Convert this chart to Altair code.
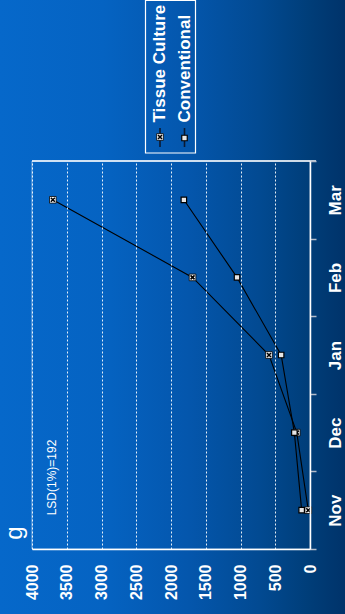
import altair as alt
import pandas as pd

# ---- data -------------------------------------------------------------
months = ["Nov", "Dec", "Jan", "Feb", "Mar"]
tissue_culture = [25, 190, 590, 1690, 3700]
conventional = [120, 225, 415, 1050, 1815]
series_names = ["Tissue Culture", "Conventional"]
value_ticks = [0, 500, 1000, 1500, 2000, 2500, 3000, 3500, 4000]
panel_label = "g"
lsd_note = "LSD(1%)=192"

FONT = "Liberation Sans"
W, H = 278, 388          # plot area
PAD_L, PAD_T = 32, 161   # plot origin inside the 345x614 canvas
PAD_R, PAD_B = 345 - PAD_L - W, 614 - PAD_T - H

rows = []
for i, m in enumerate(months):
    rows.append({"month": m, "idx": i, "series": series_names[0], "value": tissue_culture[i]})
    rows.append({"month": m, "idx": i, "series": series_names[1], "value": conventional[i]})
df = pd.DataFrame(rows)

x_enc = alt.X(
    "value:Q",
    scale=alt.Scale(domain=[0, 4000], reverse=True, nice=False, zero=True),
    axis=alt.Axis(
        values=value_ticks, format="d", orient="bottom", title=None, zindex=1,
        labelAngle=270, labelAlign="right", labelBaseline="middle",
        labelFont=FONT, labelFontSize=16, labelFontWeight="bold", labelColor="white",
        labelPadding=15, ticks=False, tickSize=0,
        domainColor="white", domainWidth=1.5,
        grid=True, gridColor="white", gridDash=[2, 2], gridWidth=1, gridOpacity=0.9,
        labelFlush=False, labelOverlap=False,
    ),
)
y_enc = alt.Y(
    "month:N",
    sort=months[::-1],
    scale=alt.Scale(type="band", paddingInner=0, paddingOuter=0),
    axis=alt.Axis(
        orient="right", title=None, zindex=1, grid=False,
        tickBand="extent", tickColor="#b4bccb", tickSize=6, tickWidth=1.5,
        domainColor="white", domainWidth=1.5,
        labelAngle=270, labelAlign="center", labelBaseline="top",
        labelFont=FONT, labelFontSize=17, labelFontWeight="bold", labelColor="white",
        labelPadding=11,
    ),
)

one = pd.DataFrame({"k": [0]})

# blue slide-style background behind everything
bg = alt.Chart(one).mark_rect(
    fill=alt.LinearGradient(
        gradient="linear",
        stops=[
            alt.GradientStop(color="#0668ca", offset=0),
            alt.GradientStop(color="#0563c2", offset=0.3),
            alt.GradientStop(color="#0456ac", offset=0.55),
            alt.GradientStop(color="#024a92", offset=0.75),
            alt.GradientStop(color="#003d78", offset=0.9),
            alt.GradientStop(color="#00336a", offset=1),
        ],
        x1=0, x2=1, y1=0, y2=0,
    ),
    strokeWidth=0,
).encode(
    x=alt.value(-PAD_L), x2=alt.value(W + PAD_R),
    y=alt.value(-PAD_T), y2=alt.value(H + PAD_B),
)

frame = alt.Chart(one).mark_rect(
    fillOpacity=0, stroke="white", strokeOpacity=0.5, strokeWidth=1
).encode(x=alt.value(0), x2=alt.value(W), y=alt.value(0), y2=alt.value(H))

top_edge = alt.Chart(one).mark_rule(color="white", strokeWidth=1.5).encode(
    x=alt.value(0), x2=alt.value(W + 6), y=alt.value(0)
)

base = alt.Chart(df).encode(x=x_enc, y=y_enc)

lines = base.mark_line(color="black", strokeWidth=1.1).encode(
    detail="series:N", order="idx:Q"
)

tc = base.transform_filter(alt.datum.series == series_names[0])
cv = base.transform_filter(alt.datum.series == series_names[1])

CROSS_X = "M-1,-1L1,1M-1,1L1,-1"


def tc_marks(chart):
    box = chart.mark_point(shape="square", filled=True, fill="white", stroke="black",
                           strokeWidth=0.8, size=44, opacity=1)
    xx = chart.mark_point(shape=CROSS_X, filled=False, stroke="black",
                          strokeWidth=1.6, size=16, opacity=1)
    return [box, xx]


def cv_marks(chart):
    return [chart.mark_point(shape="square", filled=True, fill="#e6e6e6", stroke="black",
                             strokeWidth=1.2, size=30, opacity=1)]


# panel letter and LSD note
g_text = alt.Chart(one).mark_text(
    text=panel_label, angle=270, align="center", baseline="alphabetic",
    font=FONT, fontSize=24, color="white",
).encode(x=alt.value(-10), y=alt.value(372))

lsd_text = alt.Chart(one).mark_text(
    text=lsd_note, angle=270, align="center", baseline="alphabetic",
    font=FONT, fontSize=12, color="white",
).encode(x=alt.value(23.5), y=alt.value(316.5))

# hand-placed legend (rotated with the rest of the figure)
legend_box = alt.Chart(one).mark_rect(
    fillOpacity=0, stroke="white", strokeWidth=1.2
).encode(x=alt.value(113.5), x2=alt.value(163.5), y=alt.value(-160.5), y2=alt.value(-8))

legend_layers = [legend_box]
legend_cols = [128, 152.5]
for name, cx in zip(series_names, legend_cols):
    legend_layers.append(
        alt.Chart(one).mark_rule(color="#0a1a33", strokeWidth=1.6).encode(
            x=alt.value(cx), y=alt.value(-33), y2=alt.value(-14)
        )
    )
    sym = alt.Chart(one).encode(x=alt.value(cx), y=alt.value(-24 if name == series_names[0] else -23))
    legend_layers += tc_marks(sym) if name == series_names[0] else cv_marks(sym)
    legend_layers.append(alt.Chart(one).mark_text(
        text=name, angle=270, align="left", baseline="middle",
        font=FONT, fontSize=17, fontWeight="bold", color="white",
    ).encode(x=alt.value(cx), y=alt.value(-38.5)))

chart = alt.layer(
    bg, frame, lines, *tc_marks(tc), *cv_marks(cv), g_text, lsd_text, top_edge, *legend_layers
).properties(
    width=W, height=H,
    autosize=alt.AutoSizeParams(type="none"),
    padding={"left": PAD_L, "top": PAD_T, "right": PAD_R, "bottom": PAD_B},
    background="#0560c0",
).configure_view(stroke=None)

chart.save("out.html", embed_options={"renderer": "svg", "actions": False})
